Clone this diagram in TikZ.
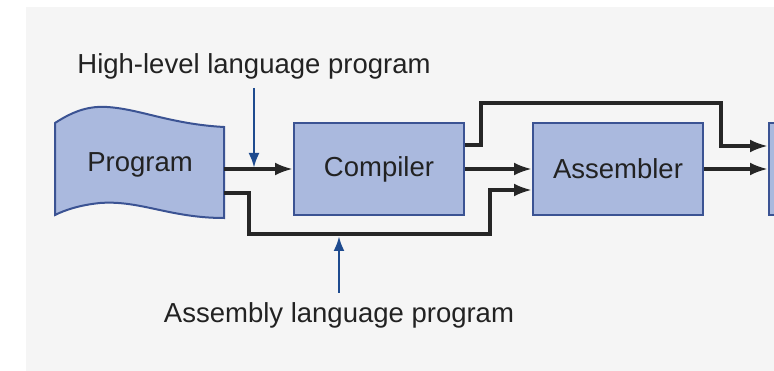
\documentclass[tikz,border=0pt]{standalone}
\usepackage{fontspec}
\setmainfont{Liberation Sans}
\usetikzlibrary{arrows.meta,calc}
\definecolor{bgray}{HTML}{F5F5F5}
\definecolor{boxfill}{HTML}{AAB9DE}
\definecolor{boxline}{HTML}{3B5393}
\definecolor{arrblue}{HTML}{1E4B8F}
\definecolor{txt}{HTML}{222222}
\tikzset{
  box/.style={draw=boxline, line width=2pt, fill=boxfill, minimum width=170pt, minimum height=92pt, inner sep=0pt, font=\fontsize{27.5}{30}\selectfont, text=txt},
  lbl/.style={font=\fontsize{27.5}{30}\selectfont, text=txt, inner sep=0pt},
  conn/.style={draw=black!85, line width=3.4pt, -{Latex[length=18pt,width=13pt]}},
  bluearr/.style={draw=arrblue, line width=2.8pt, -{Latex[length=15pt,width=11pt]}},
}
\begin{document}
\begin{tikzpicture}[x=1pt,y=-1pt]
\useasboundingbox (0,0) rectangle (774,371);
\clip (0,0) rectangle (774,371);
\fill[bgray] (26,7) rectangle (774,371);
% Program document shape
\path[draw=boxline, line width=2pt, fill=boxfill]
  (55,123) .. controls (75,110) and (90,106) .. (107,107)
  .. controls (140,109) and (170,124) .. (224,127)
  -- (224,218)
  .. controls (170,218) and (140,200) .. (100,203)
  .. controls (80,205) and (65,210) .. (55,215) -- cycle;
\node[lbl] (program) at (140,165) {Program};
\coordinate (pout1) at (224,169);
\coordinate (pout2) at (224,193);
% boxes
\node[box] (compiler) at (379,169) {Compiler};
\node[box] (assembler) at (618,169) {Assembler};
\node[box] (next) at (854,169) {};
% labels
\node[lbl] (hll) at (254,66) {High-level language program};
\node[lbl] (alp) at (339,315) {Assembly language program};
% connectors
\draw[conn] (pout1) -- (compiler.west);
\draw[conn] (pout2) -- (249,193) -- (249,234) -- (490,234) -- (490,190) -- (assembler.west |- 490,190);
\draw[conn] (compiler.east) -- (assembler.west);
\draw[conn] (compiler.east |- 0,145) -- (481,145) -- (481,103) -- (721,103) -- (721,146) -- (next.west |- 0,146);
\draw[conn] (assembler.east) -- (next.west);
% blue arrows
\draw[bluearr] (254,88) -- (254,168);
\draw[bluearr] (339,293) -- (339,236);
\end{tikzpicture}
\end{document}
